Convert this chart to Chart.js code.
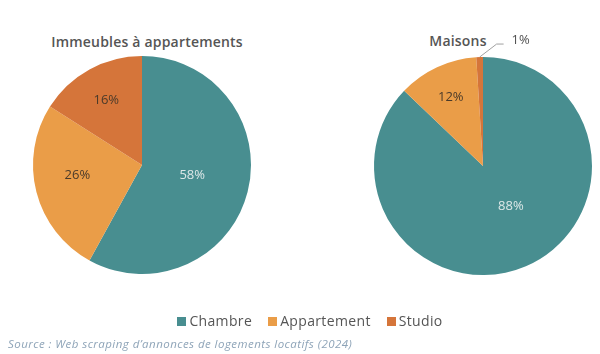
<!DOCTYPE html>
<html><head><meta charset="utf-8">
<script src="https://cdn.jsdelivr.net/npm/chart.js@4/dist/chart.umd.min.js"></script>
<style>
html,body{margin:0;padding:0;background:#fff;width:600px;height:354px;overflow:hidden;font-family:"Open Sans",sans-serif;}
.c{position:absolute;}
.t{position:absolute;font-weight:600;font-size:14px;letter-spacing:0.2px;color:#555;white-space:nowrap;transform:translateX(-50%);}
#legend{position:absolute;left:0;width:620px;top:311px;text-align:center;font-size:14px;letter-spacing:0.35px;color:#555;white-space:nowrap;}
#legend span.sw{display:inline-block;width:9px;height:9px;margin-right:3px;vertical-align:0px;}
#legend span.it{margin:0 8px;}
#src{position:absolute;left:8px;top:336px;font-size:11.5px;letter-spacing:0.45px;font-style:italic;color:#8ea4b8;white-space:nowrap;}
</style></head>
<body>
<div class="t" style="left:147px;top:32px">Immeubles à appartements</div>
<div class="t" style="left:458px;top:31px">Maisons</div>
<div class="c" style="left:0;top:0;width:300px;height:354px"><canvas id="c1"></canvas></div>
<div class="c" style="left:300px;top:0;width:300px;height:354px"><canvas id="c2"></canvas></div>
<div id="legend"></div>
<div id="src">Source : Web scraping d’annonces de logements locatifs (2024)</div>
<script>
const categories = ["Chambre", "Appartement", "Studio"];
const immeublesValues = [58, 26, 16];
const maisonsValues = [88, 12, 1];
const colors = ["#488e90", "#ea9d48", "#d5753a"];
const labelColors = ["#dde8e8", "#4a3a2a", "#4a3a2a"];

const labelPlugin = {
  id: "pctLabels",
  afterDatasetsDraw(chart, args, opts) {
    const ctx = chart.ctx;
    const meta = chart.getDatasetMeta(0);
    const data = chart.data.datasets[0].data;
    ctx.save();
    ctx.font = "13px 'Open Sans', sans-serif";
    ctx.textAlign = "center";
    ctx.textBaseline = "middle";
    meta.data.forEach((arc, i) => {
      const p = arc.getProps(["x","y","startAngle","endAngle","outerRadius"], true);
      const mid = (p.startAngle + p.endAngle) / 2 + (opts.angleShift ? opts.angleShift[i] : 0);
      const txt = data[i] + "%";
      if (opts.outside && opts.outside[i]) {
        const r = p.outerRadius;
        const ax = p.x + Math.cos(mid) * r, ay = p.y + Math.sin(mid) * r;
        const bx = ax + 17, by = ay - 13;
        ctx.strokeStyle = "#a0a0a0"; ctx.lineWidth = 1;
        ctx.beginPath(); ctx.moveTo(ax, ay); ctx.lineTo(bx, by); ctx.lineTo(bx + 7, by); ctx.stroke();
        ctx.fillStyle = "#505050";
        ctx.textAlign = "left";
        ctx.fillText(txt, bx + 15, by - 4);
        ctx.textAlign = "center";
        return;
      }
      const f = opts.radius[i];
      ctx.fillStyle = labelColors[i];
      ctx.fillText(txt, p.x + Math.cos(mid) * p.outerRadius * f, p.y + Math.sin(mid) * p.outerRadius * f);
    });
    ctx.restore();
  }
};

function makePie(id, values, pad, lab) {
  return new Chart(document.getElementById(id), {
    type: "pie",
    data: { labels: categories, datasets: [{ data: values, backgroundColor: colors, borderWidth: 0 }] },
    options: {
      responsive: true, maintainAspectRatio: false, animation: false,
      layout: { padding: pad },
      plugins: { legend: { display: false }, tooltip: { enabled: false }, pctLabels: lab }
    },
    plugins: [labelPlugin]
  });
}
makePie("c1", immeublesValues, { left: 33, right: 49, top: 56, bottom: 80 }, { radius: [0.47, 0.6, 0.68], angleShift: [-0.05, 0.1, 0] });
makePie("c2", maisonsValues, { left: 74, right: 8, top: 57, bottom: 79 }, { radius: [0.45, 0.7, 0.7], angleShift: [-0.2, 0, 0], outside: [false, false, true] });

const lg = document.getElementById("legend");
categories.forEach((c, i) => {
  const s = document.createElement("span"); s.className = "it";
  s.innerHTML = '<span class="sw" style="background:' + colors[i] + '"></span>' + c;
  lg.appendChild(s);
});
</script>
</body></html>
